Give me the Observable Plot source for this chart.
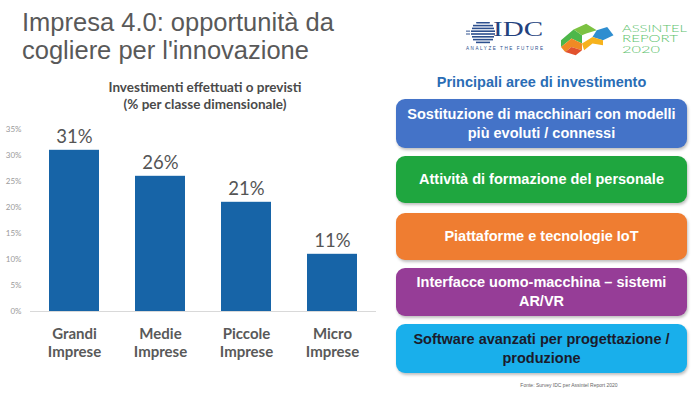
<!DOCTYPE html>
<html>
<head>
<meta charset="utf-8">
<script src="https://cdn.jsdelivr.net/npm/d3@7"></script>
<script src="https://cdn.jsdelivr.net/npm/@observablehq/plot@0.6"></script>
<style>
  html, body { margin: 0; padding: 0; background: #fff; }
  #page { position: relative; width: 700px; height: 397px; overflow: hidden; background: #fff; font-family: "Liberation Sans", Arial, sans-serif; }
  .abs { position: absolute; }
  #title { left: 22px; top: 8px; font-size: 25.5px; line-height: 28px; color: #595959; }
  #sub { left: 30px; width: 350px; top: 79px; text-align: center; font-family: Lato, sans-serif; font-weight: bold; font-size: 13.5px; line-height: 17px; color: #4a4a4a; }
  #chart { left: 0; top: 115px; }
  #areasTitle { left: 396px; width: 291px; top: 74px; text-align: center; font-weight: bold; font-size: 14.5px; color: #2a6db5; }
  .box { position: absolute; left: 396px; width: 291px; border-radius: 9px; display: flex; align-items: center; justify-content: center; text-align: center; font-weight: bold; font-size: 14.5px; line-height: 19px; color: #fff; box-shadow: 1px 2px 3px rgba(0,0,0,0.25); }
  #fonte { left: 480px; width: 178px; top: 382px; text-align: center; font-size: 5px; color: #666; }
</style>
</head>
<body>
<div id="page">
  <div id="title" class="abs">Impresa 4.0: opportunità da<br>cogliere per l'innovazione</div>

  <svg class="abs" style="left:460px;top:10px" width="240" height="52" viewBox="0 0 240 52">
    <g fill="#2c4f8e">
      <rect x="16" y="12" width="14" height="1.6" rx="0.8"/>
      <rect x="13" y="14.8" width="20" height="1.6"/>
      <rect x="12" y="17.6" width="22" height="1.6"/>
      <rect x="11" y="20.4" width="24" height="1.6"/>
      <rect x="11" y="23.2" width="24" height="1.6"/>
      <rect x="12" y="26" width="22" height="1.6"/>
      <rect x="13" y="28.8" width="20" height="1.6"/>
      <rect x="16" y="31.6" width="14" height="1.6"/>
      <rect x="6" y="20.4" width="4" height="1.6" opacity="0.6"/>
      <rect x="6" y="23.2" width="4" height="1.6" opacity="0.6"/>
    </g>
    <text x="33" y="26" font-family="Liberation Serif, serif" font-size="20" textLength="50" lengthAdjust="spacingAndGlyphs" fill="#23427e">IDC</text>
    <text x="6" y="39.5" font-family="Liberation Sans, sans-serif" font-size="4.6" textLength="77" lengthAdjust="spacing" fill="#2c4f8e">ANALYZE THE FUTURE</text>
    <g transform="translate(101,12) scale(1.05,0.83)">
      <polygon points="0,22 12,9 20,16 20,26 10,20 0,30" fill="#4cb74a"/>
      <polygon points="12,9 24,2 34,10 24,14 20,16" fill="#7cc242"/>
      <polygon points="34,10 44,6 50,16 40,22 30,18" fill="#2f8ed0"/>
      <polygon points="0,30 10,20 20,26 20,34 10,30 4,36" fill="#f08a24"/>
      <polygon points="20,26 30,18 40,22 40,28 30,26 22,34" fill="#f6b21c"/>
      <polygon points="4,36 10,30 20,34 14,40" fill="#e2522d"/>
    </g>
    <g font-family="Lato, sans-serif" font-weight="300" font-size="9" fill="#5cc26c" lengthAdjust="spacingAndGlyphs">
      <text x="162" y="21.5" textLength="65" lengthAdjust="spacingAndGlyphs">ASSINTEL</text>
      <text x="162" y="32" textLength="56" lengthAdjust="spacingAndGlyphs">REPORT</text>
      <text x="162" y="42.5" textLength="38" lengthAdjust="spacingAndGlyphs">2020</text>
    </g>
  </svg>

  <div id="sub" class="abs">Investimenti effettuati o previsti<br>(% per classe dimensionale)</div>
  <div id="chart" class="abs"></div>

  <div id="areasTitle" class="abs">Principali aree di investimento</div>
  <div id="boxes"></div>
  <div id="fonte" class="abs">Fonte: Survey IDC per Assintel Report 2020</div>
</div>
<script>
// ---- data ----
const categories = ["Grandi\nImprese", "Medie\nImprese", "Piccole\nImprese", "Micro\nImprese"];
const values = [31, 26, 21, 11];
const yTicks = [0, 5, 10, 15, 20, 25, 30, 35];
const areas = [
  "Sostituzione di macchinari con modelli\npiù evoluti / connessi",
  "Attività di formazione del personale",
  "Piattaforme e tecnologie IoT",
  "Interfacce uomo-macchina – sistemi\nAR/VR",
  "Software avanzati per progettazione /\nproduzione"
];
const areaColors = ["#4473c8", "#1fa63f", "#ef7d31", "#963d97", "#19afeb"];
const areaText = ["#fff", "#fff", "#fff", "#fff", "#1b1b2b"];

const data = categories.map((c, i) => ({cat: c, v: values[i]}));

const chart = Plot.plot({
  width: 380,
  height: 250,
  marginLeft: 30,
  marginRight: 4,
  marginTop: 14,
  marginBottom: 54,
  style: {background: "transparent", overflow: "visible"},
  x: {domain: categories, paddingInner: 0.42, paddingOuter: 0.21, label: null},
  y: {domain: [0, 35], label: null},
  marks: [
    Plot.axisY({ticks: yTicks, tickFormat: d => d + "%", tickSize: 0, tickPadding: 9, fontSize: 8, color: "#9a9a9a", fontFamily: "Lato, sans-serif", label: null}),
    Plot.axisX({tickSize: 0, tickPadding: 15, fontSize: 15, fontWeight: "bold", fontFamily: "Lato, sans-serif", color: "#595959", lineHeight: 1.2, label: null}),
    Plot.barY(data, {x: "cat", y: "v", fill: "#1764a7"}),
    Plot.ruleY([0], {stroke: "#d9d9d9", strokeWidth: 1}),
    Plot.text(data, {x: "cat", y: "v", text: d => d.v + "%", dy: -7, lineAnchor: "bottom", fontSize: 18.5, fill: "#555", fontFamily: "Lato, sans-serif"})
  ]
});
document.getElementById("chart").appendChild(chart);

const boxTops = [99, 156, 213, 268, 324];
const boxHeights = [49, 47, 47, 48, 49];
const boxes = document.getElementById("boxes");
areas.forEach((t, i) => {
  const d = document.createElement("div");
  d.className = "box";
  d.style.top = boxTops[i] + "px";
  d.style.height = boxHeights[i] + "px";
  d.style.background = areaColors[i];
  d.style.color = areaText[i];
  d.innerHTML = t.replace("\n", "<br>");
  boxes.appendChild(d);
});
</script>
</body>
</html>
